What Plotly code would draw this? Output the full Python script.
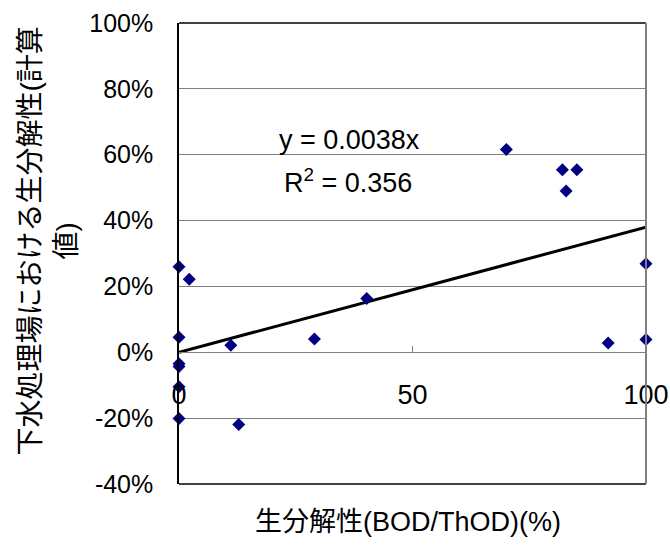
import plotly.graph_objects as go

# ---- data ----
bod_thod = [0, 2.2, 0, 11.1, 29, 40.2, 0, 0, 0, 0, 12.8, 70.1, 82.1, 85.2, 82.9, 100, 91.9, 100]
calc_biodeg = [0.26, 0.222, 0.046, 0.021, 0.040, 0.163, -0.035, -0.043, -0.105, -0.201, -0.219,
               0.616, 0.554, 0.554, 0.490, 0.269, 0.028, 0.039]
trend_slope = 0.0038
trend_r2 = 0.356
x_ticks = [0, 50, 100]
x_ticklabels = ["0", "50", "100"]
y_ticks = [-0.4, -0.2, 0.0, 0.2, 0.4, 0.6, 0.8, 1.0]
y_ticklabels = ["-40%", "-20%", "0%", "20%", "40%", "60%", "80%", "100%"]
x_title = "生分解性(BOD/ThOD)(%)"
y_title = "下水処理場における生分解性(計算<br>値)"
eq_text = "y = 0.0038x"
r2_text = "R<sup>2</sup> = 0.356"

x_range = [0, 100]
y_range = [-0.4, 1.0]
trend_x = [min(x_ticks), max(x_ticks)]
trend_y = [trend_slope * v for v in trend_x]

FONT = "Liberation Sans, Arial, Noto Sans CJK JP, sans-serif"

fig = go.Figure()
fig.add_trace(go.Scatter(
    x=trend_x, y=trend_y, mode="lines",
    line=dict(color="black", width=3), showlegend=False, hoverinfo="skip",
))
fig.add_trace(go.Scatter(
    x=bod_thod, y=calc_biodeg, mode="markers",
    marker=dict(symbol="diamond", size=10, color="#000080", line=dict(width=0)),
    cliponaxis=False, showlegend=False,
))

x0_pos = (0 - y_range[0]) / (y_range[1] - y_range[0])

fig.update_layout(
    width=670, height=546,
    margin=dict(l=179, r=24, t=23, b=62, autoexpand=False),
    paper_bgcolor="white", plot_bgcolor="white",
    font=dict(family=FONT, size=25, color="black"),
    xaxis=dict(
        range=x_range, tickvals=x_ticks, ticktext=x_ticklabels,
        showgrid=False, zeroline=False,
        showline=True, linecolor="#808080", linewidth=1,
        ticks="inside", ticklen=6, tickcolor="#808080", tickwidth=1,
        anchor="free", position=x0_pos,
        ticklabelstandoff=18, automargin=False,
        tickfont=dict(size=27),
    ),
    yaxis=dict(
        range=y_range, tickvals=y_ticks, ticktext=y_ticklabels,
        showgrid=True, gridcolor="#808080", gridwidth=1,
        zeroline=False,
        showline=True, linecolor="black", linewidth=1.5,
        ticks="", ticklabelstandoff=19, automargin=False,
        tickfont=dict(size=25),
    ),
    shapes=[
        dict(type="line", xref="paper", yref="paper", x0=0, x1=1, y0=1, y1=1,
             line=dict(color="black", width=1.5)),
        dict(type="line", xref="paper", yref="paper", x0=0, x1=1, y0=0, y1=0,
             line=dict(color="black", width=1.5)),
        dict(type="line", xref="paper", yref="paper", x0=1, x1=1, y0=0, y1=1,
             line=dict(color="#808080", width=2)),
    ],
    annotations=[
        dict(text=eq_text, x=36.5, y=0.646, xref="x", yref="y", showarrow=False,
             font=dict(size=27), xanchor="center", yanchor="middle"),
        dict(text=r2_text, x=36.2, y=0.52, xref="x", yref="y", showarrow=False,
             font=dict(size=27), xanchor="center", yanchor="middle"),
        dict(text=x_title, x=(407.5 - 179) / 467, y=-(522 - 484) / 461, xref="paper", yref="paper",
             showarrow=False, font=dict(size=27), xanchor="center", yanchor="middle"),
        dict(text=y_title, x=(47.5 - 179) / 467, y=(484 - 241) / 461, xref="paper", yref="paper",
             showarrow=False, font=dict(size=28), textangle=-90,
             xanchor="center", yanchor="middle", align="center"),
    ],
)

fig.write_html("out.html")
